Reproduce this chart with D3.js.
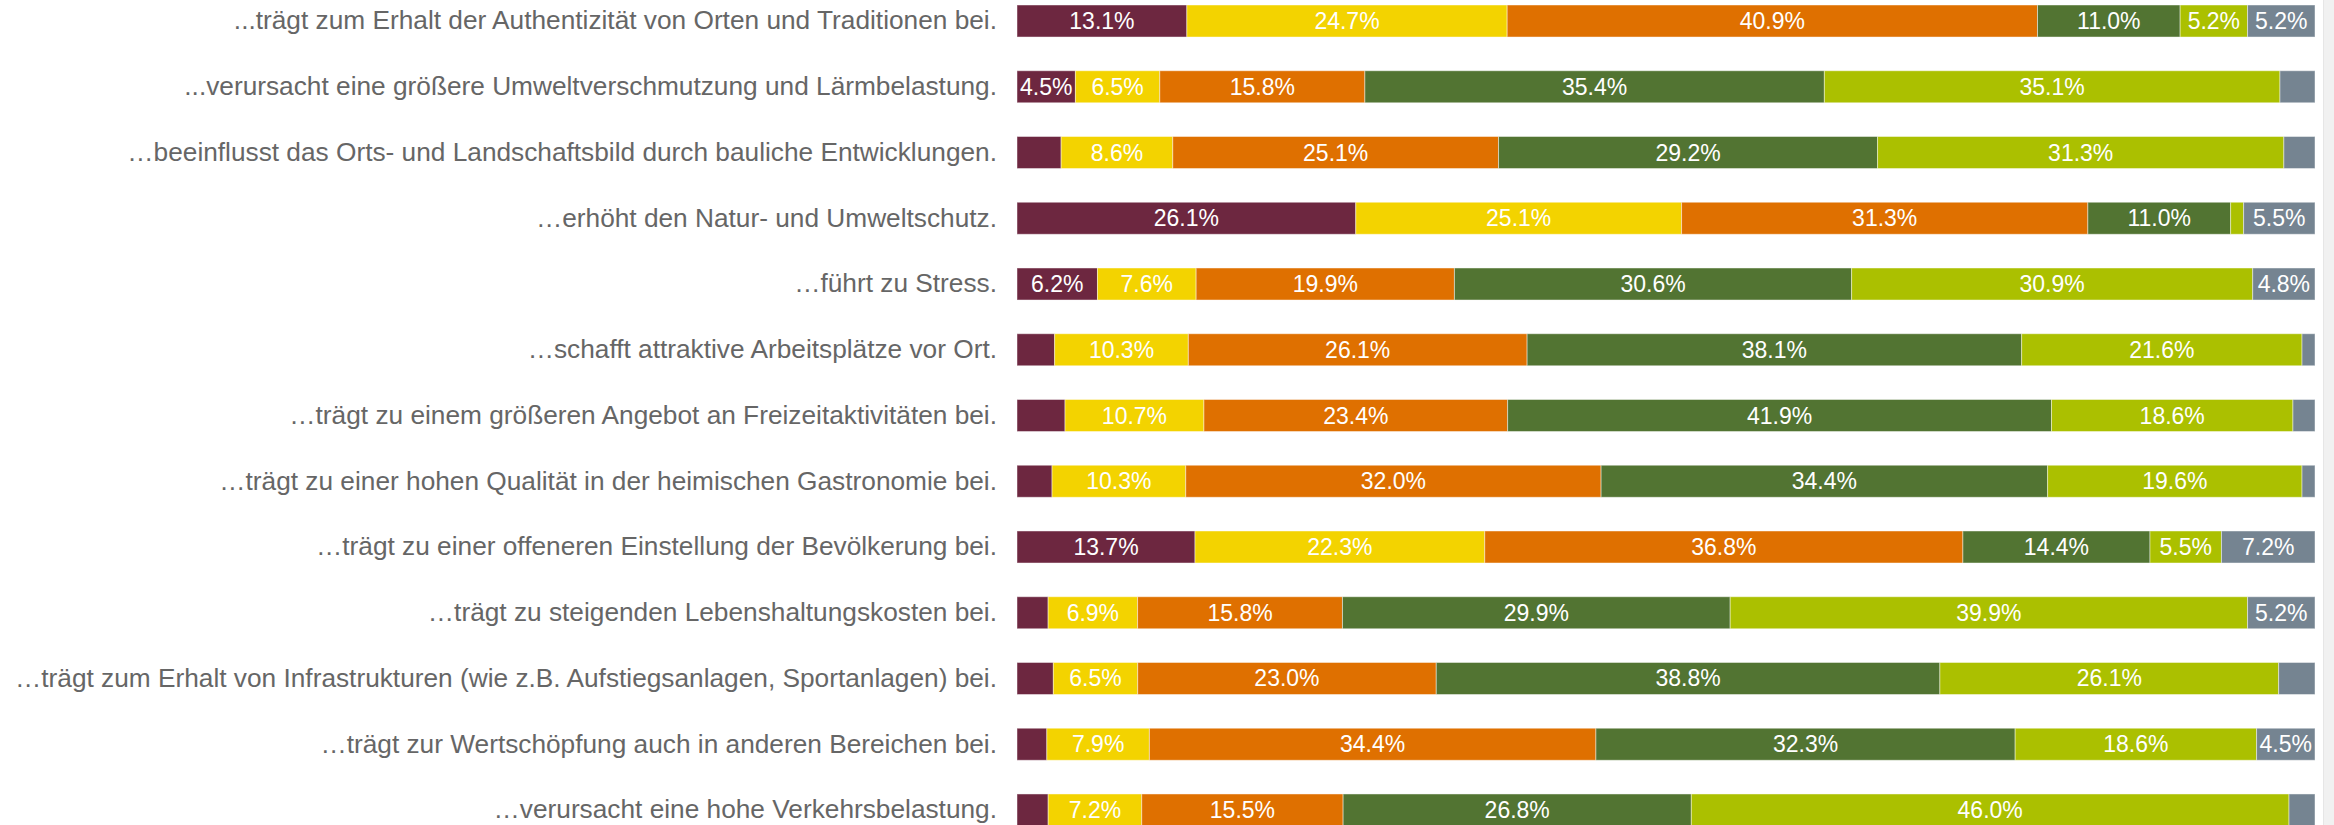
<!DOCTYPE html>
<html lang="de">
<head>
<meta charset="utf-8">
<title>Auswirkungen des Tourismus</title>
<script src="https://cdn.jsdelivr.net/npm/d3@7/dist/d3.min.js"></script>
<style>
  html, body { margin: 0; padding: 0; background: #ffffff; overflow: hidden; }
  svg { display: block; }
</style>
</head>
<body>
<svg id="chart" width="2334" height="825"></svg>
<script>
// Statements (one horizontal bar each)
const categories = [
  "...trägt zum Erhalt der Authentizität von Orten und Traditionen bei.",
  "...verursacht eine größere Umweltverschmutzung und Lärmbelastung.",
  "…beeinflusst das Orts- und Landschaftsbild durch bauliche Entwicklungen.",
  "…erhöht den Natur- und Umweltschutz.",
  "…führt zu Stress.",
  "…schafft attraktive Arbeitsplätze vor Ort.",
  "…trägt zu einem größeren Angebot an Freizeitaktivitäten bei.",
  "…trägt zu einer hohen Qualität in der heimischen Gastronomie bei.",
  "…trägt zu einer offeneren Einstellung der Bevölkerung bei.",
  "…trägt zu steigenden Lebenshaltungskosten bei.",
  "…trägt zum Erhalt von Infrastrukturen (wie z.B. Aufstiegsanlagen, Sportanlagen) bei.",
  "…trägt zur Wertschöpfung auch in anderen Bereichen bei.",
  "…verursacht eine hohe Verkehrsbelastung."
];

// Answer shares in percent, one array per answer option
const seriesNames = ["trifft voll zu", "trifft eher zu", "teils/teils", "trifft eher nicht zu", "trifft gar nicht zu", "weiß nicht"];
const vollZu      = [13.1, 4.5, 3.4, 26.1, 6.2, 2.9, 3.7, 2.7, 13.7, 2.4, 2.8, 2.3, 2.4];
const eherZu      = [24.7, 6.5, 8.6, 25.1, 7.6, 10.3, 10.7, 10.3, 22.3, 6.9, 6.5, 7.9, 7.2];
const teilsTeils  = [40.9, 15.8, 25.1, 31.3, 19.9, 26.1, 23.4, 32.0, 36.8, 15.8, 23.0, 34.4, 15.5];
const eherNicht   = [11.0, 35.4, 29.2, 11.0, 30.6, 38.1, 41.9, 34.4, 14.4, 29.9, 38.8, 32.3, 26.8];
const garNicht    = [5.2, 35.1, 31.3, 1.0, 30.9, 21.6, 18.6, 19.6, 5.5, 39.9, 26.1, 18.6, 46.0];
const weissNicht  = [5.2, 2.7, 2.4, 5.5, 4.8, 1.0, 1.7, 1.0, 7.2, 5.2, 2.8, 4.5, 2.0];
const seriesColors = ["#6d2740", "#f3d300", "#df7000", "#527432", "#abc000", "#758491"];

const seriesValues = [vollZu, eherZu, teilsTeils, eherNicht, garNicht, weissNicht];

const W = 2334, H = 825;
const svg = d3.select("#chart");

// page scrollbar track on the right edge
svg.append("rect").attr("x", 2323).attr("y", 0).attr("width", 11).attr("height", H).attr("fill", "#f1f1f1");
svg.append("line").attr("x1", 2323.5).attr("x2", 2323.5).attr("y1", 0).attr("y2", H).attr("stroke", "#e6e6e6");

const plotLeft = 1017, plotRight = 2315;

const x = d3.scaleLinear().domain([0, 100]).range([plotLeft, plotRight]);
const y = d3.scaleBand().domain(categories).range([5, 826]).paddingInner(0.513).paddingOuter(0);

// stacked rows, normalised to 100 %
const rows = categories.map((c, i) => {
  const vals = seriesValues.map(s => s[i]);
  const total = d3.sum(vals);
  let acc = 0;
  return vals.map((v, k) => {
    const seg = { cat: c, k, v, x0: acc / total * 100, x1: (acc + v) / total * 100 };
    acc += v;
    return seg;
  });
});

const barG = svg.append("g");
rows.forEach(row => {
  const g = barG.append("g");
  g.selectAll("rect").data(row).join("rect")
    .attr("x", d => x(d.x0))
    .attr("y", d => y(d.cat))
    .attr("width", d => x(d.x1) - x(d.x0))
    .attr("height", y.bandwidth())
    .attr("fill", d => seriesColors[d.k])
    .attr("stroke", "#ffffff")
    .attr("stroke-opacity", 0.45)
    .attr("stroke-width", 1);

  g.selectAll("text").data(row.filter(d => d.v >= 4)).join("text")
    .attr("x", d => (x(d.x0) + x(d.x1)) / 2)
    .attr("y", d => y(d.cat) + y.bandwidth() / 2)
    .attr("text-anchor", "middle")
    .attr("dominant-baseline", "central")
    .attr("fill", "#ffffff")
    .style("font-family", "'Liberation Sans', Arial, sans-serif")
    .style("font-size", "23px")
    .text(d => d.v.toFixed(1) + "%");
});

// category axis
const axis = svg.append("g")
  .attr("transform", `translate(${plotLeft},0)`)
  .call(d3.axisLeft(y).tickSize(0).tickPadding(20));
axis.select(".domain").remove();
axis.selectAll("text")
  .attr("fill", "#666666")
  .style("font-family", "'Liberation Sans', Arial, sans-serif")
  .style("font-size", "26.25px");
</script>
</body>
</html>
